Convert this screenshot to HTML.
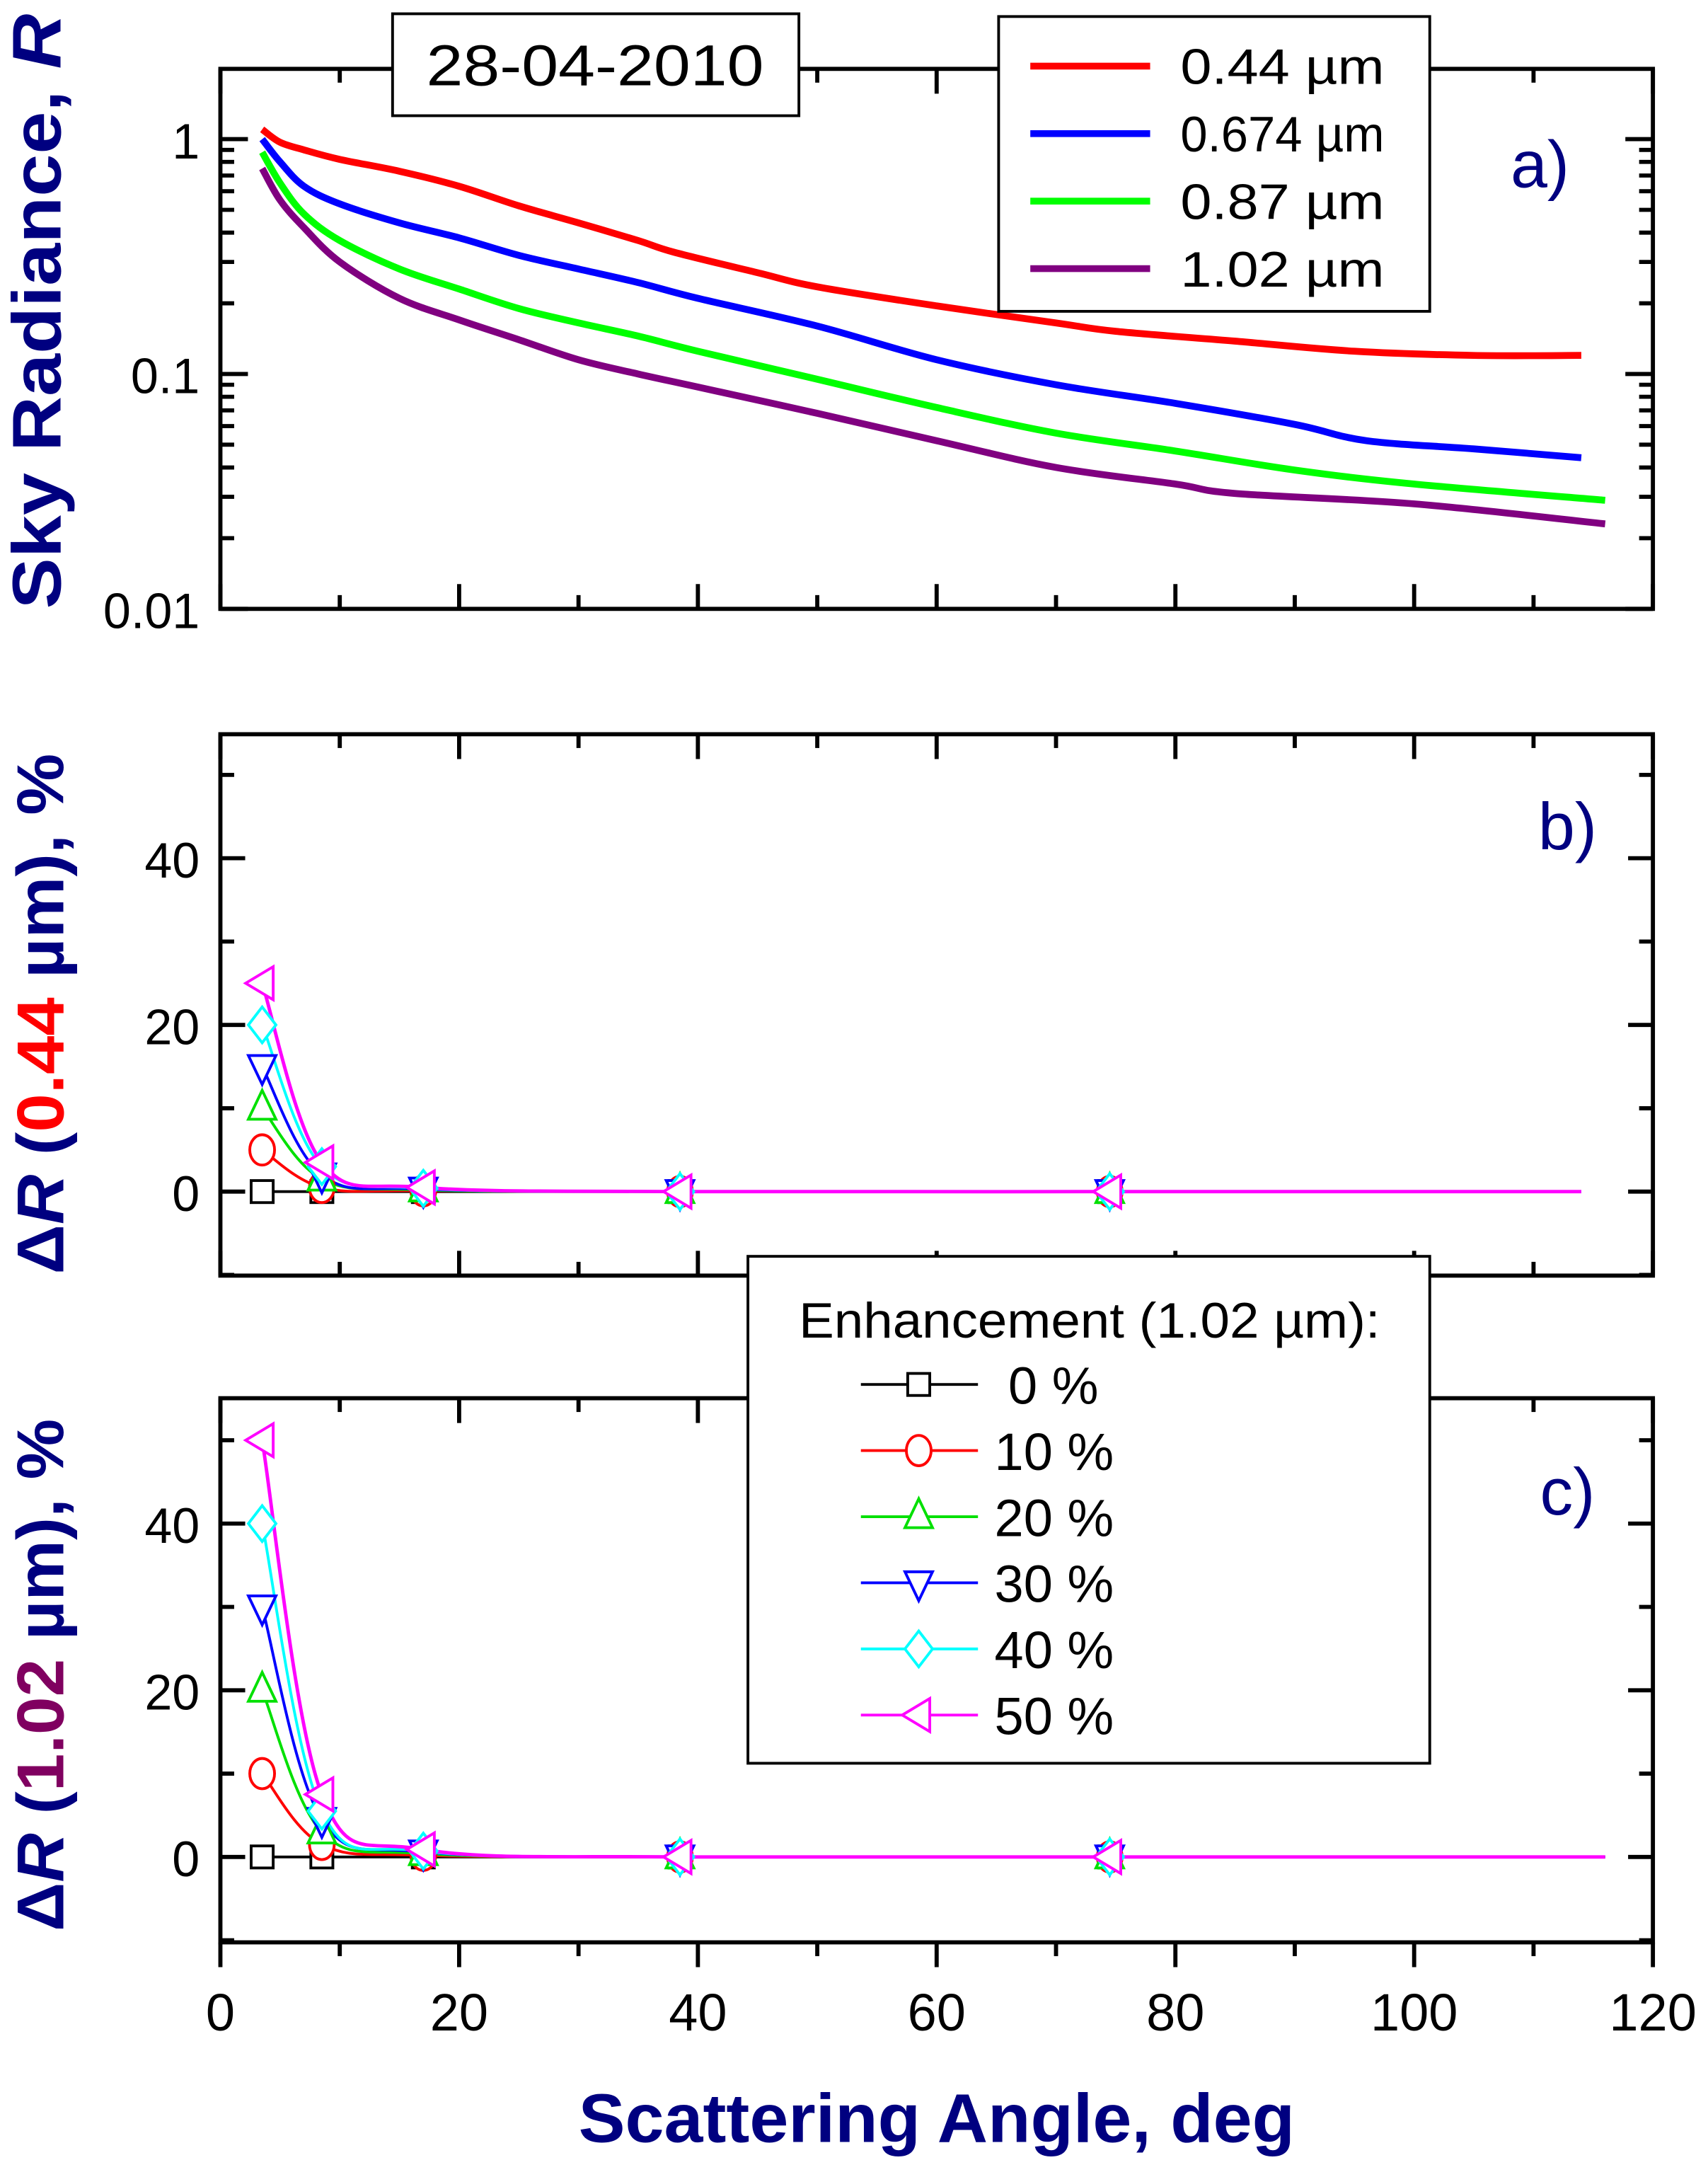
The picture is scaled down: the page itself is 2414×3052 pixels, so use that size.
<!DOCTYPE html>
<html><head><meta charset="utf-8"><style>
html,body{margin:0;padding:0;background:#fff;}
svg{display:block;}
text{font-family:"Liberation Sans",sans-serif;}
</style></head><body>
<svg id="chart" width="2414" height="3052" viewBox="0 0 1240 1568" preserveAspectRatio="none" xmlns="http://www.w3.org/2000/svg">
<g id="root"></g>
</svg>
<script>
// ---- Data ----
const radAngles = {
  red:    [3.5,5,7,10,15,20,25,30,35,38,45,50,60,70,75,85,95,105,114],
  blue:   [3.5,5,7,10,15,20,25,30,35,40,50,60,70,80,90,96,105,114],
  green:  [3.5,5,7,10,15,20,25,30,35,40,50,60,70,80,90,100,116],
  purple: [3.5,5,7,10,15,20,25,30,35,40,50,60,70,80,85,100,116]
};
const radRed    = [1.1,0.97,0.9,0.82,0.73,0.63,0.52,0.44,0.37,0.33,0.27,0.235,0.195,0.165,0.152,0.138,0.125,0.12,0.12];
const radBlue   = [1.0,0.8,0.63,0.53,0.44,0.38,0.32,0.28,0.245,0.21,0.16,0.115,0.09,0.075,0.061,0.052,0.048,0.044];
const radGreen  = [0.88,0.65,0.48,0.37,0.28,0.23,0.19,0.165,0.145,0.125,0.095,0.072,0.056,0.047,0.039,0.034,0.029];
const radPurple = [0.75,0.55,0.42,0.3,0.21,0.17,0.14,0.115,0.1,0.088,0.068,0.052,0.04,0.034,0.031,0.028,0.023];
const radLabels = ["0.44  \u00b5m","0.674 \u00b5m","0.87  \u00b5m","1.02  \u00b5m"];

const dAngles = [3.5,8.5,17,38.5,74.5];
const enhLabels = ["0 %","10 %","20 %","30 %","40 %","50 %"];
const dB0  = [0,0,0,0,0];
const dB10 = [5,0.5,0.1,0,0];
const dB20 = [10,1.5,0.2,0,0];
const dB30 = [15,2,0.3,0,0];
const dB40 = [20,3,0.4,0,0];
const dB50 = [25,3.5,0.5,0,0];
const dC0  = [0,0,0,0,0];
const dC10 = [10,1.5,0.2,0,0];
const dC20 = [20,3,0.4,0,0];
const dC30 = [30,4.5,0.6,0,0];
const dC40 = [40,5.5,0.7,0,0];
const dC50 = [50,7.5,0.9,0,0];
const bEnd = 114, cEnd = 116;
const xTicks = [0,20,40,60,80,100,120];
const yTicksDelta = [0,20,40];
const yTicksLog = [1,0.1,0.01];

// ---- Layout ----
const NS="http://www.w3.org/2000/svg";
const root=document.getElementById('root');
const X0=160,X1=1200;
const xs=v=>X0+(v/120)*(X1-X0);
const A={top:50,bot:442};
const ya=v=>101-(Math.log10(v))*170.5;
const B={top:533,bot:926}, C={top:1015,bot:1410};
const yb=v=>865-v*6.05, yc=v=>1348-v*6.05;
const NAVY="#000080";
const enhColors=["#000000","#ff0000","#00e000","#0000ff","#00ffff","#ff00ff"];
const enhMarkers=["square","circle","up","down","diamond","left"];

function el(tag,attrs,parent){const e=document.createElementNS(NS,tag);for(const k in attrs)e.setAttribute(k,attrs[k]);(parent||root).appendChild(e);return e;}
function txt(s,x,y,size,attrs,parent){const t=el('text',Object.assign({x:x,y:y,'font-size':size},attrs||{}),parent);t.textContent=s;return t;}
function smooth(pts){
  if(pts.length<2)return '';
  let d='M'+pts[0][0]+','+pts[0][1];
  for(let i=0;i<pts.length-1;i++){
    const p0=pts[i-1]||pts[i],p1=pts[i],p2=pts[i+1],p3=pts[i+2]||p2;
    const c1=[p1[0]+(p2[0]-p0[0])/6,p1[1]+(p2[1]-p0[1])/6];
    const c2=[p2[0]-(p3[0]-p1[0])/6,p2[1]-(p3[1]-p1[1])/6];
    d+=' C'+c1[0]+','+c1[1]+' '+c2[0]+','+c2[1]+' '+p2[0]+','+p2[1];
  }
  return d;
}
function marker(type,x,y,color,g){
  const r=10; let e;
  if(type==='square')e=el('rect',{x:x-8,y:y-8,width:16,height:16},g);
  else if(type==='circle')e=el('ellipse',{cx:x,cy:y,rx:9,ry:11},g);
  else if(type==='up')e=el('polygon',{points:`${x},${y-r-3} ${x-r},${y+r-2} ${x+r},${y+r-2}`},g);
  else if(type==='down')e=el('polygon',{points:`${x},${y+r+3} ${x-r},${y-r+2} ${x+r},${y-r+2}`},g);
  else if(type==='diamond')e=el('polygon',{points:`${x},${y-r-3} ${x+r},${y} ${x},${y+r+3} ${x-r},${y}`},g);
  else e=el('polygon',{points:`${x-r-2},${y} ${x+r-2},${y-r-2} ${x+r-2},${y+r+2}`},g);
  e.setAttribute('fill','#fff');e.setAttribute('stroke',color);e.setAttribute('stroke-width','2');
  
  
  return e;
}
function frame(P,name,bottomOut){
  const g=el('g',{});
  
  
  el('rect',{x:X0,y:P.top,width:X1-X0,height:P.bot-P.top,fill:'none',stroke:'#000','stroke-width':3},g);
  for(let v=0;v<=120;v+=10){
    const major=v%20===0, L=major?18:10, x=xs(v);
    if(bottomOut) el('line',{x1:x,y1:P.bot,x2:x,y2:P.bot+L,stroke:'#000','stroke-width':3},g);
    else el('line',{x1:x,y1:P.bot,x2:x,y2:P.bot-L,stroke:'#000','stroke-width':3},g);
    el('line',{x1:x,y1:P.top,x2:x,y2:P.top+L,stroke:'#000','stroke-width':3},g);
  }
  return g;
}
// ---- Panel a ----
const ga=frame(A,'panel-a',false);
for(let e=-2;e<=0;e++){for(let m=1;m<10;m++){const v=m*Math.pow(10,e);if(v>2)continue;const y=ya(v);if(y<A.top||y>A.bot)continue;
  const L=m===1?20:10;
  el('line',{x1:X0,y1:y,x2:X0+L,y2:y,stroke:'#000','stroke-width':3},ga);
  el('line',{x1:X1,y1:y,x2:X1-L,y2:y,stroke:'#000','stroke-width':3},ga);}}
yTicksLog.forEach(v=>{const t=txt(String(v),145,ya(v)+14,36,{'text-anchor':'end'});
  
  });
const radColors=["#ff0000","#0000ff","#00ff00","#800080"];
const radSeries=[[radAngles.red,radRed],[radAngles.blue,radBlue],[radAngles.green,radGreen],[radAngles.purple,radPurple]];
const radNames=['red','blue','green','purple'];
radSeries.forEach((s,i)=>{
  const pts=s[0].map((a,j)=>[xs(a),ya(s[1][j])]);
  const p=el('path',{d:smooth(pts),fill:'none',stroke:radColors[i],'stroke-width':5});
  
  
});
// date box
const db=el('g',{});


el('rect',{x:285,y:10,width:295,height:74,fill:'#fff',stroke:'#000','stroke-width':2},db);
txt('28-04-2010',432,62,42,{'text-anchor':'middle',textLength:245,lengthAdjust:'spacingAndGlyphs'},db);
// legend a
const la=el('g',{});


el('rect',{x:725,y:12,width:313,height:214,fill:'#fff',stroke:'#000','stroke-width':2},la);
radLabels.forEach((s,i)=>{const y=48+i*49;
  el('line',{x1:748,y1:y,x2:835,y2:y,stroke:radColors[i],'stroke-width':5},la);
  const t=txt(s,857,y+13,36,{'xml:space':'preserve',textLength:148,lengthAdjust:'spacingAndGlyphs'},la);
  
  });
txt('a)',1118,136,48,{'text-anchor':'middle',fill:NAVY});
// y title a
const ta=txt('',44,226,50,{'text-anchor':'middle','font-weight':'bold',fill:NAVY,transform:'rotate(-90 44 226)',textLength:432,lengthAdjust:'spacingAndGlyphs'});
ta.innerHTML='Sky Radiance, <tspan font-style="italic">R</tspan>';



// ---- Delta panels ----
function deltaPanel(P,ys,series,endX,name,label,labelColor,letter,bottomOut,cy,tlen){
  const g=frame(P,name,bottomOut);
  for(let v=-10;v<=50;v+=10){const y=ys(v);const L=v%20===0?18:10;
    el('line',{x1:X0,y1:y,x2:X0+L,y2:y,stroke:'#000','stroke-width':3},g);
    el('line',{x1:X1,y1:y,x2:X1-L,y2:y,stroke:'#000','stroke-width':3},g);}
  yTicksDelta.forEach(v=>{const t=txt(String(v),145,ys(v)+14,36,{'text-anchor':'end'});
    
    });
  series.forEach((s,i)=>{
    const pts=dAngles.map((a,j)=>[xs(a),ys(s[j])]);pts.push([xs(endX),ys(s[s.length-1])]);
    const p=el('path',{d:smooth(pts),fill:'none',stroke:enhColors[i],'stroke-width':i===5?2.5:2});
    
    
  });
  series.forEach((s,i)=>{dAngles.forEach((a,j)=>marker(enhMarkers[i],xs(a),ys(s[j]),enhColors[i]));});
  txt(letter,1138,(P.top+P.bot)/2-113,48,{'text-anchor':'middle',fill:NAVY});
  const t=txt('',46,cy,48,{'text-anchor':'middle','font-weight':'bold',fill:NAVY,transform:`rotate(-90 46 ${cy})`,textLength:tlen,lengthAdjust:'spacingAndGlyphs'});
  t.innerHTML=`\u0394<tspan font-style="italic">R</tspan> (<tspan fill="${labelColor}">${label}</tspan> \u00b5m), %`;
  
  
}
deltaPanel(B,yb,[dB0,dB10,dB20,dB30,dB40,dB50],bEnd,'panel-b','0.44','#ff0000','b)',false,736,378);
deltaPanel(C,yc,[dC0,dC10,dC20,dC30,dC40,dC50],cEnd,'panel-c','1.02','#800060','c)',true,1216,372);
// x tick labels
xTicks.forEach(v=>{const t=txt(String(v),xs(v),1474,38,{'text-anchor':'middle'});
  
  });
const xt=txt('Scattering Angle, deg',680,1555,50,{'text-anchor':'middle','font-weight':'bold',fill:NAVY,textLength:520,lengthAdjust:'spacingAndGlyphs'});


// enhancement legend
const le=el('g',{});


el('rect',{x:543,y:912,width:495,height:368,fill:'#fff',stroke:'#000','stroke-width':2},le);
txt('Enhancement (1.02 \u00b5m):',580,971,36,{textLength:422,lengthAdjust:'spacingAndGlyphs'},le);
enhLabels.forEach((s,i)=>{const y=1005+i*48;
  el('line',{x1:625,y1:y,x2:710,y2:y,stroke:enhColors[i],'stroke-width':2},le);
  marker(enhMarkers[i],667,y,enhColors[i],le);
  const t=txt(s,i===0?732:722,y+14,38,{},le);
  
  });
</script>
</body></html>
